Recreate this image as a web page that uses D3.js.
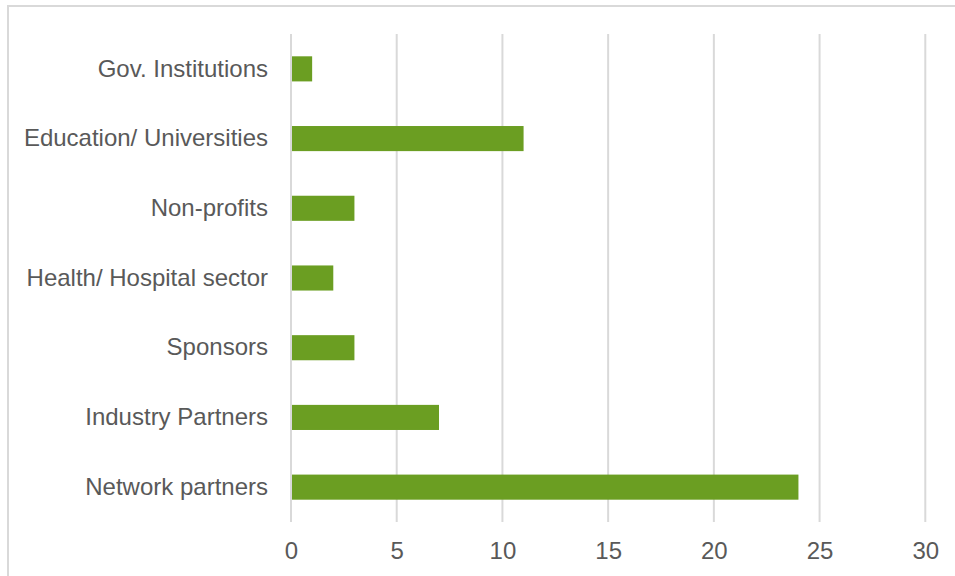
<!DOCTYPE html>
<html><head><meta charset="utf-8">
<script src="https://cdn.jsdelivr.net/npm/d3@7"></script>
<style>body{margin:0;background:#fff;}svg{display:block;}</style>
</head><body>
<svg id="c" width="955" height="576"></svg>
<script>
const categories = ["Gov. Institutions","Education/ Universities","Non-profits","Health/ Hospital sector","Sponsors","Industry Partners","Network partners"];
const values = [1, 11, 3, 2, 3, 7, 24];
const ticks = [0, 5, 10, 15, 20, 25, 30];

const svg = d3.select("#c");
svg.append("rect").attr("x", 8).attr("y", 6).attr("width", 960).attr("height", 600)
  .attr("fill", "#fff").attr("stroke", "#d9d9d9").attr("stroke-width", 2);

const x = d3.scaleLinear().domain([0, 30]).range([291, 925.3]);
const y = d3.scaleBand().domain(categories).range([34, 522]).paddingInner(0.64).paddingOuter(0.32);

const font = "'Liberation Sans', Arial, sans-serif";

// gridlines
svg.append("g").selectAll("line").data(ticks).join("line")
  .attr("x1", d => x(d)).attr("x2", d => x(d))
  .attr("y1", 34).attr("y2", 522)
  .attr("stroke", "#d9d9d9").attr("stroke-width", 2);

// bars
svg.append("g").selectAll("rect").data(values).join("rect")
  .attr("x", x(0) + 1).attr("y", (d, i) => y(categories[i]))
  .attr("width", d => x(d) - x(0) - 1).attr("height", y.bandwidth())
  .attr("fill", "#6b9e22");

// x axis labels
const xa = d3.axisBottom(x).tickValues(ticks).tickSize(0).tickPadding(0);
const gx = svg.append("g").attr("transform", "translate(0,559)").call(xa);
gx.select(".domain").remove();
gx.selectAll("text").attr("font-family", font).attr("font-size", 24)
  .attr("fill", "#595959").attr("y", 0).attr("dy", 0);

// y axis labels
const ya = d3.axisLeft(y).tickSize(0).tickPadding(0);
const gy = svg.append("g").attr("transform", "translate(268,0)").call(ya);
gy.select(".domain").remove();
gy.selectAll("text").attr("font-family", font).attr("font-size", 24)
  .attr("fill", "#595959");
</script>
</body></html>
